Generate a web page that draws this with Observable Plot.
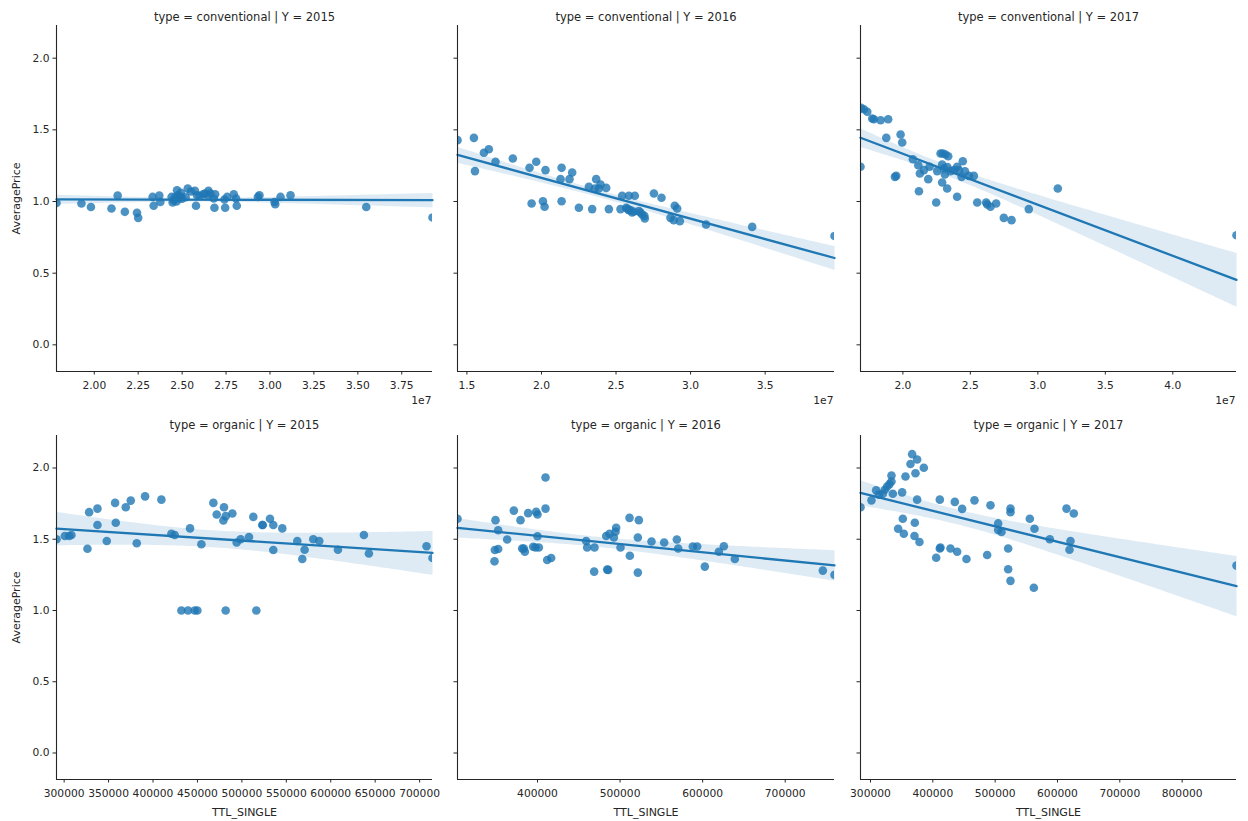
<!DOCTYPE html>
<html><head><meta charset="utf-8">
<script src="https://cdn.jsdelivr.net/npm/d3@7"></script>
<script src="https://cdn.jsdelivr.net/npm/@observablehq/plot@0.6"></script>
<style>
body{margin:0;background:#fff;}
#chart{position:relative;width:1248px;height:821px;overflow:hidden;background:#fff;}
#chart svg{position:absolute;}
</style></head><body><div id="chart"></div>
<script>
// TTL_SINGLE values for conventional panels are in units of 1e7
const conv2015X = [1.785,1.927,1.981,2.098,2.133,2.174,2.243,2.250,2.332,2.338,2.370,2.376,2.440,2.446,2.452,2.471,2.475,2.484,2.490,2.532,2.573,2.585,2.579,2.630,2.650,2.661,2.680,2.684,2.688,2.741,2.745,2.756,2.794,2.807,2.811,2.931,2.940,3.026,3.030,3.060,3.117,3.548,3.925,2.460,2.500,2.600,2.493,2.550,2.620,2.520,2.468,2.650];
const conv2015Y = [0.99,0.986,0.962,0.951,1.042,0.928,0.921,0.886,1.032,0.970,1.042,0.997,1.032,0.993,1.009,1.079,1.044,1.021,1.037,1.090,1.074,1.044,0.970,1.056,1.074,1.056,1.021,0.956,1.051,1.014,0.956,1.032,1.051,1.021,0.970,1.032,1.044,0.997,0.981,1.032,1.044,0.962,0.888,1.03,1.02,1.04,1.06,1.07,1.05,1.03,1.00,1.04];
const conv2016X = [1.437,1.547,1.554,1.614,1.647,1.692,1.808,1.920,1.965,2.027,1.934,2.010,2.021,2.135,2.128,2.188,2.206,2.135,2.251,2.318,2.340,2.367,2.358,2.396,2.385,2.434,2.452,2.530,2.541,2.586,2.626,2.568,2.586,2.608,2.597,2.653,2.664,2.675,2.693,2.754,2.805,2.894,2.910,2.865,2.887,2.928,3.104,3.413,3.965,2.620,2.575,2.690];
const conv2016Y = [1.428,1.444,1.212,1.340,1.365,1.277,1.300,1.235,1.277,1.219,0.986,1.002,0.963,1.235,1.156,1.156,1.202,1.002,0.956,1.102,0.947,1.156,1.091,1.119,1.091,1.095,0.947,0.947,1.040,1.040,1.040,0.956,0.940,0.923,0.940,0.933,0.923,0.909,0.881,1.056,1.026,0.970,0.951,0.886,0.870,0.863,0.840,0.823,0.760,0.93,0.95,0.90];
const conv2017X = [1.690,1.711,1.736,1.773,1.785,1.835,1.891,1.877,1.983,1.995,1.686,1.941,1.951,2.074,2.114,2.126,2.156,2.188,2.198,2.119,2.247,2.254,2.279,2.296,2.316,2.336,2.291,2.304,2.311,2.291,2.328,2.353,2.402,2.415,2.444,2.435,2.402,2.489,2.526,2.551,2.617,2.625,2.649,2.691,2.748,2.805,2.933,3.148,4.472,2.330,2.380,2.460];
const conv2017Y = [1.653,1.644,1.626,1.579,1.574,1.567,1.574,1.444,1.467,1.412,1.242,1.172,1.179,1.295,1.253,1.195,1.219,1.156,1.242,1.072,0.993,1.212,1.335,1.335,1.328,1.316,1.258,1.230,1.188,1.133,1.091,1.212,1.242,1.219,1.281,1.172,1.033,1.179,1.179,0.993,0.993,0.979,0.963,0.986,0.886,0.870,0.947,1.091,0.765,1.24,1.22,1.21];
const org2015X = [291400,300750,305620,308250,326240,328110,337480,337480,347970,357340,358090,369340,374960,381700,391080,409440,420690,424440,441680,454420,431930,439430,446920,449920,481780,516260,467910,471660,479900,479150,481780,489270,494150,498640,508010,512880,523000,531620,535370,535370,545490,562360,570600,567980,580350,587100,608080,637320,642940,707780,714500,523500];
const org2015Y = [1.500,1.523,1.523,1.530,1.433,1.690,1.715,1.600,1.488,1.755,1.616,1.725,1.771,1.472,1.801,1.778,1.539,1.530,1.576,1.465,1,1,1,1,1,1,1.755,1.674,1.725,1.632,1.662,1.681,1.477,1.500,1.516,1.657,1.600,1.644,1.600,1.424,1.576,1.488,1.426,1.361,1.500,1.488,1.426,1.530,1.400,1.451,1.368,1.600];
const org2016X = [303100,349130,352360,348330,352360,347920,363260,371340,379410,381430,384660,383450,388700,398390,400000,394750,397580,401610,400000,409690,409690,411710,416550,458940,460150,469030,468630,483160,487200,492450,494460,495270,484370,485580,500520,511420,522720,521510,511830,521510,538070,553410,568750,570370,588130,593380,602660,619620,625670,638990,745570,759700];
const org2016Y = [1.644,1.634,1.563,1.424,1.431,1.345,1.498,1.701,1.634,1.435,1.412,1.435,1.683,1.692,1.674,1.447,1.442,1.442,1.521,1.933,1.715,1.354,1.368,1.488,1.442,1.442,1.273,1.523,1.539,1.512,1.553,1.581,1.287,1.285,1.442,1.650,1.634,1.512,1.384,1.266,1.484,1.477,1.498,1.435,1.449,1.449,1.308,1.412,1.451,1.361,1.280,1.250];
const org2017X = [284000,301600,309090,313370,319790,323000,326740,330480,333690,333690,335830,350800,356150,366850,374870,364180,372200,385570,374870,351880,371130,344390,353480,370600,378620,411240,411240,412310,405430,428350,435300,439050,447070,454020,466860,492530,487180,504830,504830,510180,524620,524620,520880,520880,524620,555630,563120,562050,587720,614460,626220,620870,619270,887200];
const org2017Y = [1.725,1.773,1.843,1.813,1.819,1.847,1.870,1.887,1.905,1.947,1.819,1.829,1.940,2.097,2.060,2.028,1.963,2.002,1.778,1.644,1.616,1.574,1.539,1.523,1.481,1.778,1.435,1.442,1.370,1.435,1.762,1.412,1.713,1.361,1.773,1.738,1.389,1.611,1.565,1.551,1.715,1.690,1.435,1.289,1.208,1.644,1.574,1.160,1.500,1.715,1.681,1.488,1.426,1.315];

const titles = ["type = conventional | Y = 2015","type = conventional | Y = 2016","type = conventional | Y = 2017",
                "type = organic | Y = 2015","type = organic | Y = 2016","type = organic | Y = 2017"];
const conv2015Ticks = [2.0,2.25,2.5,2.75,3.0,3.25,3.5,3.75];
const conv2016Ticks = [1.5,2.0,2.5,3.0,3.5];
const conv2017Ticks = [2.0,2.5,3.0,3.5,4.0];
const org2015Ticks = [300000,350000,400000,450000,500000,550000,600000,650000,700000];
const org2016Ticks = [400000,500000,600000,700000];
const org2017Ticks = [300000,400000,500000,600000,700000,800000];
const yTicks = [0,0.5,1.0,1.5,2.0];
const yLabel = "AveragePrice";
const xLabel = "TTL_SINGLE";
const offsetLabel = "1e7";

const panels = [
  {xs:conv2015X, ys:conv2015Y, scale:1e7, ticks:conv2015Ticks, fmt:d=>(d/1e7).toFixed(2), col:0, row:0},
  {xs:conv2016X, ys:conv2016Y, scale:1e7, ticks:conv2016Ticks, fmt:d=>(d/1e7).toFixed(1), col:1, row:0},
  {xs:conv2017X, ys:conv2017Y, scale:1e7, ticks:conv2017Ticks, fmt:d=>(d/1e7).toFixed(1), col:2, row:0},
  {xs:org2015X, ys:org2015Y, scale:1, ticks:org2015Ticks, fmt:d3.format("d"), col:0, row:1},
  {xs:org2016X, ys:org2016Y, scale:1, ticks:org2016Ticks, fmt:d3.format("d"), col:1, row:1},
  {xs:org2017X, ys:org2017Y, scale:1, ticks:org2017Ticks, fmt:d3.format("d"), col:2, row:1}
];
const cols = [{left:0,width:440,ml:56,mr:8},{left:440,width:410,ml:17,mr:16},{left:840,width:408,ml:20,mr:12}];
const rows = [{top:0,height:410,mt:25,mb:39,tdy:-13},{top:410,height:411,mt:25,mb:42,tdy:-15}];
const yDomain = [-0.186, 2.228];
const blue = "#1f77b4";
const ink = "#262626";
const chart = document.getElementById("chart");

panels.forEach((p, i) => {
  const data = p.xs.map((x, k) => ({x: x * p.scale, y: p.ys[k]}));
  const ext = d3.extent(data, d => d.x);
  const c = cols[p.col], r = rows[p.row];
  const marks = [
    Plot.dot(data, {x:"x", y:"y", r:4.3, fill:blue, fillOpacity:0.8, clip:true}),
    Plot.linearRegressionY(data, {x:"x", y:"y", stroke:blue, strokeWidth:2.3, fill:blue, fillOpacity:0.15, ci:0.95}),
    Plot.ruleX([ext[0]], {stroke:ink, strokeWidth:1.1}),
    Plot.ruleY([yDomain[0]], {stroke:ink, strokeWidth:1.1}),
    Plot.axisX({ticks: p.ticks.map(t => t * p.scale), tickFormat: p.fmt, tickSize:3.5, tickPadding:6, label:null}),
    Plot.axisY({ticks: yTicks, tickFormat: p.col === 0 ? (d => d.toFixed(1)) : (() => ""), tickSize:3.5, tickPadding:3.5, label:null}),
    Plot.text([titles[i]], {frameAnchor:"top", dy:r.tdy, fontSize:11.5, fill:ink})
  ];
  if (p.col === 0) marks.push(Plot.text([yLabel], {frameAnchor:"left", rotate:-90, textAnchor:"middle", dx:-40, fontSize:11, fill:ink}));
  if (p.row === 1) marks.push(Plot.text([xLabel], {frameAnchor:"bottom", dy:36, fontSize:11, fill:ink}));
  if (p.row === 0) marks.push(Plot.text([offsetLabel], {frameAnchor:"bottom-right", dx:-1, dy:32.5, textAnchor:"end", fontSize:10.7, fill:ink}));
  const svg = Plot.plot({
    width: c.width, height: r.height,
    marginLeft: c.ml, marginRight: c.mr, marginTop: r.mt, marginBottom: r.mb,
    x: {domain: ext, label: null},
    y: {domain: yDomain, label: null},
    style: {fontFamily: "DejaVu Sans", fontSize: "10.7px", color: ink, background: "transparent", overflow: "visible"},
    marks
  });
  svg.style.left = c.left + "px";
  svg.style.top = r.top + "px";
  chart.appendChild(svg);
});
</script></body></html>
